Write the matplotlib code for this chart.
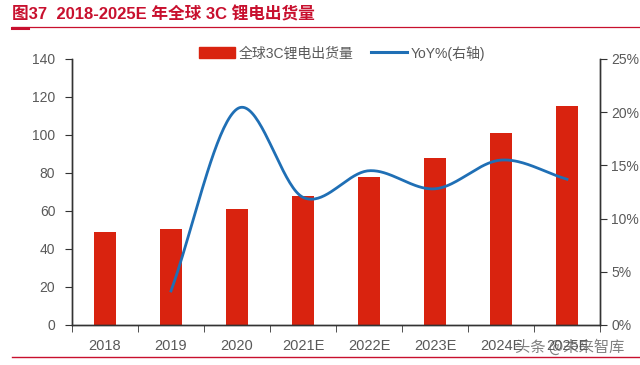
import numpy as np
import matplotlib
matplotlib.use("Agg")
import matplotlib.pyplot as plt
from matplotlib.lines import Line2D
from matplotlib.patches import Patch

plt.rcParams['font.family'] = ['Liberation Sans', 'Noto Sans CJK SC', 'DejaVu Sans']

categories = ["2018", "2019", "2020", "2021E", "2022E", "2023E", "2024E", "2025E"]
shipments = [48.8, 50.3, 60.8, 67.8, 77.8, 87.8, 101.3, 115.3]
yoy_years = ["2019", "2020", "2021E", "2022E", "2023E", "2024E", "2025E"]
yoy = [3.2, 20.3, 12.0, 14.5, 12.8, 15.5, 13.7]
left_ticks = [0, 20, 40, 60, 80, 100, 120, 140]
right_ticks = [0, 5, 10, 15, 20, 25]

RED = "#D9230F"
BLUE = "#1F6FB5"
GRAY = "#595959"
TITLE_RED = "#C8102E"


def catmull_rom(x, y, n=40):
    x = np.asarray(x, float)
    y = np.asarray(y, float)
    px = np.concatenate([[2 * x[0] - x[1]], x, [2 * x[-1] - x[-2]]])
    py = np.concatenate([[2 * y[0] - y[1]], y, [2 * y[-1] - y[-2]]])
    xs, ys = [], []
    for i in range(1, len(px) - 2):
        t = np.linspace(0, 1, n, endpoint=(i == len(px) - 3))
        p0, p1, p2, p3 = py[i - 1], py[i], py[i + 1], py[i + 2]
        q0, q1, q2, q3 = px[i - 1], px[i], px[i + 1], px[i + 2]
        f = lambda a0, a1, a2, a3: 0.5 * ((2 * a1) + (-a0 + a2) * t +
                                         (2 * a0 - 5 * a1 + 4 * a2 - a3) * t ** 2 +
                                         (-a0 + 3 * a1 - 3 * a2 + a3) * t ** 3)
        xs.append(f(q0, q1, q2, q3))
        ys.append(f(p0, p1, p2, p3))
    return np.concatenate(xs), np.concatenate(ys)


fig = plt.figure(figsize=(6.4, 3.65), dpi=100)
ax = fig.add_axes([72 / 640, 40 / 365, (600 - 72) / 640, (325 - 59) / 365])
ax2 = ax.twinx()

x = np.arange(len(categories))
ax.bar(x, shipments, width=0.32, color=RED, zorder=2)
ax.set_xlim(-0.5, len(categories) - 0.5)
ax.set_ylim(0, 140)
ax.set_yticks(left_ticks)
ax.set_xticks(x)
ax.set_xticklabels(categories)
ax.set_xticks(np.arange(len(categories) + 1) - 0.5, minor=True)
ax.tick_params(axis='x', which='major', length=0, pad=10, labelsize=10.5, colors=GRAY)
ax.tick_params(axis='x', which='minor', length=5, direction='out', color='#333333')
ax.tick_params(axis='y', length=5, direction='out', color='#333333', labelsize=10,
               labelcolor=GRAY, pad=7)

xi = np.array([categories.index(c) for c in yoy_years])
sx, sy = catmull_rom(xi, yoy)
ax2.plot(sx, sy, color=BLUE, lw=2.0, zorder=3)
ax2.set_ylim(0, 25)
ax2.set_yticks(right_ticks)
ax2.set_yticklabels([f"{v}%" for v in right_ticks])
ax2.tick_params(axis='y', length=5, direction='out', color='#333333', labelsize=10,
                labelcolor=GRAY, pad=3)

for a in (ax, ax2):
    a.spines['top'].set_visible(False)
    for s in ('left', 'right', 'bottom'):
        a.spines[s].set_color('#333333')
        a.spines[s].set_linewidth(1.0)

handles = [Patch(color=RED), Line2D([0], [0], color=BLUE, lw=2.2)]
fig.legend(handles, ["全球3C锂电出货量", "YoY%(右轴)"], loc='center',
           bbox_to_anchor=(342 / 640, 1 - 53 / 365), ncol=2, frameon=False,
           fontsize=10, handlelength=2.6, handleheight=0.8, columnspacing=1.2,
           handletextpad=0.3, labelcolor=GRAY)

fig.text(12 / 640, 1 - 14 / 365, "图37  2018-2025E 年全球 3C 锂电出货量", color=TITLE_RED,
         fontsize=12, fontweight='bold', va='center', ha='left',
         family=['Liberation Sans', 'Noto Sans CJK SC'])
fig.add_artist(Line2D([12 / 640, 1.0], [1 - 27 / 365, 1 - 27 / 365], color=TITLE_RED, lw=0.9))
fig.add_artist(Line2D([12 / 640, 28 / 640], [1 - 27.5 / 365, 1 - 27.5 / 365], color=TITLE_RED, lw=2.2))
fig.add_artist(Line2D([12 / 640, 1.0], [1 - 357 / 365, 1 - 357 / 365], color=TITLE_RED, lw=1.0))

fig.text(515 / 640, 1 - 347 / 365, "头条 @未来智库", color="#555555", alpha=0.75,
         fontsize=11, va='center', ha='left', family=['Noto Sans CJK SC', 'DejaVu Sans'])

fig.savefig("out.png", dpi=100)
